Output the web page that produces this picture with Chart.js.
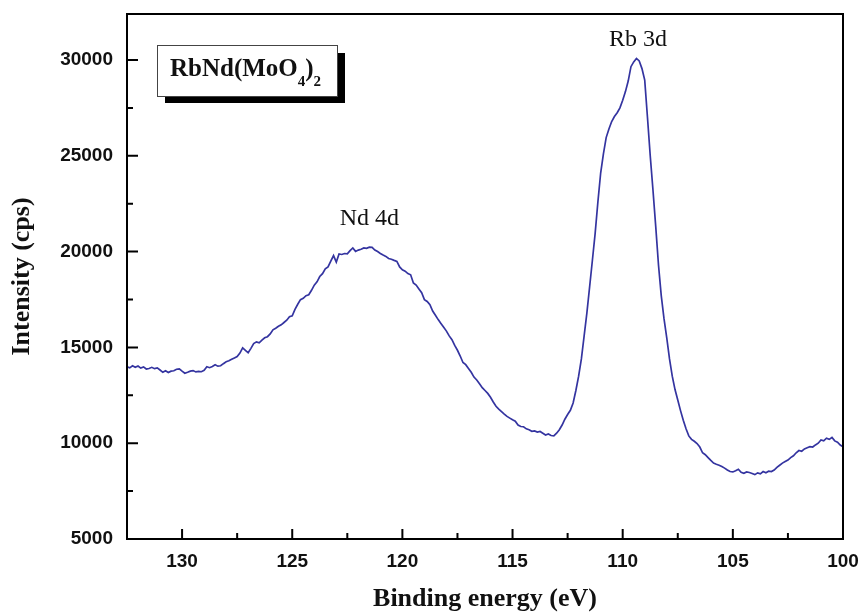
<!DOCTYPE html>
<html>
<head>
<meta charset="utf-8">
<title>RbNd(MoO4)2 XPS</title>
<script src="https://cdn.jsdelivr.net/npm/chart.js@4.4.0/dist/chart.umd.min.js"></script>
<style>
  html, body { margin: 0; padding: 0; background: #fff; }
  #wrap { width: 861px; height: 615px; }
</style>
</head>
<body>
<div id="wrap"><canvas id="myChart" width="861" height="615"></canvas></div>
<script>
// binding energy (eV), every 0.125 eV
const energies = [
  132.5, 132.375, 132.25, 132.125, 132, 131.875, 131.75, 131.625,
  131.5, 131.375, 131.25, 131.125, 131, 130.875, 130.75, 130.625,
  130.5, 130.375, 130.25, 130.125, 130, 129.875, 129.75, 129.625,
  129.5, 129.375, 129.25, 129.125, 129, 128.875, 128.75, 128.625,
  128.5, 128.375, 128.25, 128.125, 128, 127.875, 127.75, 127.625,
  127.5, 127.375, 127.25, 127.125, 127, 126.875, 126.75, 126.625,
  126.5, 126.375, 126.25, 126.125, 126, 125.875, 125.75, 125.625,
  125.5, 125.375, 125.25, 125.125, 125, 124.875, 124.75, 124.625,
  124.5, 124.375, 124.25, 124.125, 124, 123.875, 123.75, 123.625,
  123.5, 123.375, 123.25, 123.125, 123, 122.875, 122.75, 122.625,
  122.5, 122.375, 122.25, 122.125, 122, 121.875, 121.75, 121.625,
  121.5, 121.375, 121.25, 121.125, 121, 120.875, 120.75, 120.625,
  120.5, 120.375, 120.25, 120.125, 120, 119.875, 119.75, 119.625,
  119.5, 119.375, 119.25, 119.125, 119, 118.875, 118.75, 118.625,
  118.5, 118.375, 118.25, 118.125, 118, 117.875, 117.75, 117.625,
  117.5, 117.375, 117.25, 117.125, 117, 116.875, 116.75, 116.625,
  116.5, 116.375, 116.25, 116.125, 116, 115.875, 115.75, 115.625,
  115.5, 115.375, 115.25, 115.125, 115, 114.875, 114.75, 114.625,
  114.5, 114.375, 114.25, 114.125, 114, 113.875, 113.75, 113.625,
  113.5, 113.375, 113.25, 113.125, 113, 112.875, 112.75, 112.625,
  112.5, 112.375, 112.25, 112.125, 112, 111.875, 111.75, 111.625,
  111.5, 111.375, 111.25, 111.125, 111, 110.875, 110.75, 110.625,
  110.5, 110.375, 110.25, 110.125, 110, 109.875, 109.75, 109.625,
  109.5, 109.375, 109.25, 109.125, 109, 108.875, 108.75, 108.625,
  108.5, 108.375, 108.25, 108.125, 108, 107.875, 107.75, 107.625,
  107.5, 107.375, 107.25, 107.125, 107, 106.875, 106.75, 106.625,
  106.5, 106.375, 106.25, 106.125, 106, 105.875, 105.75, 105.625,
  105.5, 105.375, 105.25, 105.125, 105, 104.875, 104.75, 104.625,
  104.5, 104.375, 104.25, 104.125, 104, 103.875, 103.75, 103.625,
  103.5, 103.375, 103.25, 103.125, 103, 102.875, 102.75, 102.625,
  102.5, 102.375, 102.25, 102.125, 102, 101.875, 101.75, 101.625,
  101.5, 101.375, 101.25, 101.125, 101, 100.875, 100.75, 100.625,
  100.5, 100.375, 100.25, 100.125, 100
];
// intensity (cps)
const intensities = [
  13990, 13930, 14040, 13960, 14030, 13920, 13980, 13870,
  13900, 13960, 13890, 13930, 13820, 13700, 13780, 13690,
  13760, 13780, 13860, 13880, 13760, 13650, 13700, 13760,
  13790, 13720, 13750, 13730, 13800, 13990, 13940, 14000,
  14090, 14020, 14040, 14150, 14250, 14300, 14380, 14450,
  14520, 14700, 14980, 14850, 14720, 14950, 15200, 15290,
  15240, 15380, 15500, 15560, 15700, 15920, 16000, 16100,
  16180, 16300, 16420, 16600, 16650, 16980, 17250, 17490,
  17560, 17700, 17750, 17980, 18250, 18420, 18700, 18850,
  19100, 19200, 19500, 19790, 19450, 19880, 19850, 19900,
  19880, 20050, 20190, 20010, 20080, 20120, 20190, 20170,
  20230, 20220, 20080, 20000, 19900, 19820, 19750, 19640,
  19600, 19540, 19490, 19200, 19050, 18980, 18850, 18790,
  18360, 18250, 18050, 17850, 17490, 17400, 17230, 16900,
  16680, 16450, 16250, 16050, 15850, 15600, 15400, 15100,
  14850, 14550, 14210, 14100, 13900, 13700, 13450, 13300,
  13100, 12900, 12750, 12600, 12400, 12150, 11930, 11780,
  11650, 11520, 11400, 11310, 11220, 11150, 10950, 10870,
  10860, 10750, 10700, 10620, 10640, 10580, 10610, 10520,
  10430, 10480, 10400, 10380, 10520, 10700, 10950, 11250,
  11500, 11720, 12100, 12750, 13500, 14400, 15600, 16800,
  18170, 19550, 20950, 22600, 24100, 25100, 25950, 26400,
  26790, 27050, 27250, 27500, 27900, 28350, 28900, 29650,
  29900, 30080, 29950, 29550, 28950, 27000, 25000, 23200,
  21300, 19300, 17700, 16500, 15500, 14400, 13500, 12800,
  12250, 11700, 11200, 10750, 10380, 10200, 10100, 9980,
  9800, 9500, 9400, 9250, 9100, 8960, 8900, 8850,
  8780, 8700, 8600, 8520, 8500, 8560, 8640, 8480,
  8430, 8500, 8470, 8420, 8360, 8450, 8400, 8520,
  8460, 8540, 8520, 8600, 8740, 8850, 8960, 9040,
  9120, 9250, 9340, 9500, 9620, 9580, 9700, 9760,
  9820, 9800, 9910, 10000, 10170, 10120, 10260, 10200,
  10300, 10120, 10050, 9900, 9820
];

const xTicks = [130, 125, 120, 115, 110, 105, 100];
const yTicks = [5000, 10000, 15000, 20000, 25000, 30000];
const peakNames = ['Nd 4d', 'Rb 3d'];
const peakX = [121.5, 109.3];
const peakY = [21700, 31050];

const lineColor = 'rgb(52, 52, 160)';

// frame, inward tick marks, peak labels and the sample box
const decorPlugin = {
  id: 'decor',
  afterDraw(chart) {
    const ctx = chart.ctx;
    const a = chart.chartArea;
    const xs = chart.scales.x;
    const ys = chart.scales.y;
    ctx.save();
    ctx.strokeStyle = '#000';
    ctx.lineWidth = 2;
    ctx.strokeRect(a.left, a.top, a.right - a.left, a.bottom - a.top);

    ctx.beginPath();
    xTicks.forEach(v => {
      const px = xs.getPixelForValue(v);
      ctx.moveTo(px, a.bottom); ctx.lineTo(px, a.bottom - 10);
      const m = v + 2.5;
      if (m < xs.max) {
        const pm = xs.getPixelForValue(m);
        ctx.moveTo(pm, a.bottom); ctx.lineTo(pm, a.bottom - 6);
      }
    });
    yTicks.forEach(v => {
      const py = ys.getPixelForValue(v);
      ctx.moveTo(a.left, py); ctx.lineTo(a.left + 11, py);
      const m = v + 2500;
      if (m < ys.max) {
        const pm = ys.getPixelForValue(m);
        ctx.moveTo(a.left, pm); ctx.lineTo(a.left + 6, pm);
      }
    });
    ctx.stroke();

    // peak names
    ctx.fillStyle = '#111';
    ctx.font = '24px "Liberation Serif", "Times New Roman", serif';
    ctx.textAlign = 'center';
    ctx.textBaseline = 'middle';
    peakNames.forEach((n, i) => {
      ctx.fillText(n, xs.getPixelForValue(peakX[i]), ys.getPixelForValue(peakY[i]));
    });

    // sample name box with shadow
    ctx.fillStyle = '#000';
    ctx.fillRect(165, 53, 180, 50);
    ctx.fillStyle = '#fff';
    ctx.fillRect(157, 45, 180, 51);
    ctx.lineWidth = 1;
    ctx.strokeStyle = '#444';
    ctx.strokeRect(157.5, 45.5, 180, 51);

    ctx.fillStyle = '#111';
    ctx.textAlign = 'left';
    ctx.textBaseline = 'alphabetic';
    const big = 'bold 25px "Liberation Serif", "Times New Roman", serif';
    const small = 'bold 15px "Liberation Serif", "Times New Roman", serif';
    let x = 170;
    ctx.font = big;
    ctx.fillText('RbNd(MoO', x, 76);
    x += ctx.measureText('RbNd(MoO').width;
    ctx.font = small;
    ctx.fillText('4', x, 86);
    x += ctx.measureText('4').width;
    ctx.font = big;
    ctx.fillText(')', x, 76);
    x += ctx.measureText(')').width;
    ctx.font = small;
    ctx.fillText('2', x, 86);
    ctx.restore();
  }
};

function noPad(s) {
  s.paddingTop = 0;
  s.paddingBottom = 0;
  s.paddingLeft = 0;
  s.paddingRight = 0;
}

const ctx = document.getElementById('myChart').getContext('2d');
new Chart(ctx, {
  type: 'line',
  data: {
    datasets: [{
      label: 'RbNd(MoO4)2',
      data: energies.map((e, i) => ({ x: e, y: intensities[i] })),
      borderColor: lineColor,
      borderWidth: 1.7,
      pointRadius: 0,
      tension: 0,
      fill: false
    }]
  },
  options: {
    responsive: false,
    animation: false,
    devicePixelRatio: 1,
    layout: { padding: { top: 14, right: 18, left: 0, bottom: 0 } },
    plugins: {
      legend: { display: false },
      tooltip: { enabled: false }
    },
    scales: {
      x: {
        type: 'linear',
        reverse: true,
        min: 100,
        max: 132.5,
        grid: { display: false, drawTicks: false },
        border: { display: false },
        afterBuildTicks: s => { s.ticks = xTicks.map(v => ({ value: v })); },
        afterFit: s => { s.height = 76; noPad(s); },
        ticks: {
          color: '#111',
          padding: 11,
          maxRotation: 0,
          callback: v => String(v),
          font: { family: '"Liberation Sans", Arial, sans-serif', size: 19, weight: 'bold' }
        },
        title: {
          display: true,
          text: 'Binding energy (eV)',
          color: '#111',
          padding: { top: 0, bottom: 0 },
          font: { family: '"Liberation Serif", "Times New Roman", serif', size: 26, weight: 'bold' }
        }
      },
      y: {
        type: 'linear',
        min: 5000,
        max: 32400,
        grid: { display: false, drawTicks: false },
        border: { display: false },
        afterBuildTicks: s => { s.ticks = yTicks.map(v => ({ value: v })); },
        afterFit: s => { s.width = 127; noPad(s); },
        ticks: {
          color: '#111',
          padding: 14,
          callback: v => String(v),
          font: { family: '"Liberation Sans", Arial, sans-serif', size: 19, weight: 'bold' }
        },
        title: {
          display: true,
          text: 'Intensity (cps)',
          color: '#111',
          padding: { top: 7, bottom: 0 },
          font: { family: '"Liberation Serif", "Times New Roman", serif', size: 26, weight: 'bold' }
        }
      }
    }
  },
  plugins: [decorPlugin]
});
</script>
</body>
</html>
